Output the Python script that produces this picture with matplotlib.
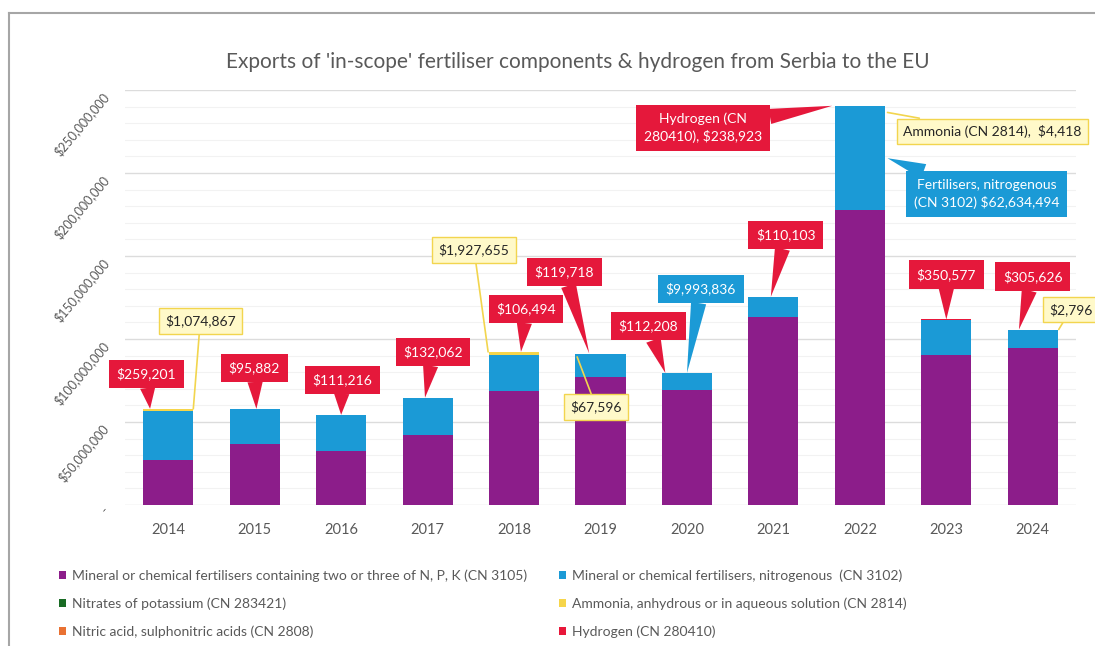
import matplotlib
matplotlib.use("Agg")
import matplotlib.pyplot as plt
from matplotlib.lines import Line2D
from matplotlib.ticker import FuncFormatter, MultipleLocator
import numpy as np

plt.rcParams['font.family'] = ['Lato', 'DejaVu Sans']

years = ['2014', '2015', '2016', '2017', '2018', '2019', '2020', '2021', '2022', '2023', '2024']

# values in USD
npk_3105 = [27100000, 36700000, 32500000, 42200000, 68700000, 77100000, 69400000,
            113300000, 177600000, 90400000, 94600000]
nitrogenous_3102 = [29500000, 21100000, 21700000, 22300000, 21500000, 13900000, 9993836,
                    12000000, 62634494, 21000000, 10800000]
nitrates_283421 = [0, 0, 0, 0, 0, 0, 0, 0, 0, 0, 0]
ammonia_2814 = [1074867, 0, 0, 0, 1927655, 67596, 0, 0, 4418, 0, 2796]
nitric_2808 = [0, 0, 0, 0, 0, 0, 0, 0, 0, 0, 0]
hydrogen_280410 = [259201, 95882, 111216, 132062, 106494, 119718, 112208, 110103,
                   238923, 350577, 305626]

series = [
    ("Mineral or chemical fertilisers containing two or three of N, P, K (CN 3105)", npk_3105, '#8C1D8A'),
    ("Mineral or chemical fertilisers, nitrogenous  (CN 3102)", nitrogenous_3102, '#1B9AD6'),
    ("Nitrates of potassium (CN 283421)", nitrates_283421, '#196B24'),
    ("Ammonia, anhydrous or in aqueous solution (CN 2814)", ammonia_2814, '#F6D54A'),
    ("Nitric acid, sulphonitric acids (CN 2808)", nitric_2808, '#E97132'),
    ("Hydrogen (CN 280410)", hydrogen_280410, '#E8173A'),
]

RED = '#E5183B'
BLUE = '#1B9AD6'
TEXT = '#595959'

fig = plt.figure(figsize=(10.95, 6.46), dpi=100)
ax = fig.add_axes([125 / 1095, 1 - 505 / 646, 951 / 1095, 415 / 646])

x = np.arange(len(years))
bottom = np.zeros(len(years))
handles = []
for name, vals, col in series:
    b = ax.bar(x, vals, 0.58, bottom=bottom, color=col, label=name, zorder=3)
    handles.append(b)
    bottom = bottom + np.array(vals)
totals = bottom

ax.set_xlim(-0.5, len(years) - 0.5)
ax.set_ylim(0, 250000000)
ax.yaxis.set_major_locator(MultipleLocator(50000000))
ax.yaxis.set_minor_locator(MultipleLocator(10000000))
ax.grid(axis='y', which='major', color='#dcdcdc', lw=1, zorder=0)
ax.grid(axis='y', which='minor', color='#f2f2f2', lw=0.8, zorder=0)
for s in ax.spines.values():
    s.set_visible(False)
ax.set_xticks(x)
ax.set_xticklabels(years)
ax.tick_params(axis='x', length=0, pad=13, labelsize=10.5, labelcolor=TEXT)
ax.tick_params(axis='y', which='both', length=0, pad=17, labelsize=9, labelcolor=TEXT)
ax.yaxis.set_major_formatter(FuncFormatter(lambda v, p: '-' if v == 0 else f'${v:,.0f}'))
for lab in ax.get_yticklabels():
    lab.set_rotation(50)
    lab.set_rotation_mode('anchor')
    lab.set_ha('right')
    lab.set_va('top')

fig.text(578 / 1095, 1 - 62 / 646, "Exports of 'in-scope' fertiliser components & hydrogen from Serbia to the EU",
         ha='center', va='center', fontsize=15, color=TEXT)


def money(v):
    return f'${v:,.0f}'


def callout(i, y, dx, text, off, kind):
    if kind == 'red':
        box = dict(boxstyle='square,pad=0.55', fc=RED, ec='none')
        arr = dict(arrowstyle='wedge,tail_width=1.1,shrink_factor=0.5', fc=RED, ec='none',
                   shrinkA=0, shrinkB=0)
        tc = 'white'
    elif kind == 'blue':
        box = dict(boxstyle='square,pad=0.55', fc=BLUE, ec='none')
        arr = dict(arrowstyle='wedge,tail_width=1.1,shrink_factor=0.5', fc=BLUE, ec='none',
                   shrinkA=0, shrinkB=0)
        tc = 'white'
    else:
        box = dict(boxstyle='square,pad=0.45', fc='#FFF9C9', ec='#F2D54E', lw=1)
        arr = dict(arrowstyle='-', color='#F2D54E', lw=1.2, shrinkA=0, shrinkB=0)
        tc = '#262626'
    ax.annotate(text, xy=(i + dx, y), xytext=off, textcoords='offset pixels',
                ha='center', va='center', fontsize=10, color=tc, bbox=box,
                arrowprops=arr, zorder=6, annotation_clip=False,
                linespacing=1.5)


# hydrogen callouts (red)
red_pos = [(-0.21, (-4, 35)), (0.02, (-2, 41)), (0.0, (1, 35)), (-0.03, (8, 46)),
           (0.08, (5, 43)), (-0.13, (-25, 82)), (-0.25, (-17, 47)), (-0.03, (15, 62)),
           None, (0.0, (0, 45)), (-0.16, (14, 53))]
for i, p in enumerate(red_pos):
    if p is None:
        continue
    callout(i, totals[i], p[0], money(hydrogen_280410[i]), p[1], 'red')

callout(8, totals[8], -0.32, f'Hydrogen (CN\n280410), {money(hydrogen_280410[8])}', (-129, -22), 'red')

# ammonia callouts (yellow)
callout(0, totals[0], 0.29, money(ammonia_2814[0]), (7, 88), 'yellow')
callout(4, totals[4], -0.3, money(ammonia_2814[4]), (-14, 102), 'yellow')
callout(5, totals[5] - 2000000, -0.27, money(ammonia_2814[5]), (19, -50), 'yellow')
callout(8, totals[8] - 4000000, 0.32, f'Ammonia (CN 2814),  {money(ammonia_2814[8])}', (105, -19), 'yellow')
callout(10, totals[10], 0.3, money(ammonia_2814[10]), (12, 20), 'yellow')

# nitrogenous callouts (blue)
callout(6, totals[6], 0.0, money(nitrogenous_3102[6]), (14, 84), 'blue')
callout(8, npk_3105[8] + nitrogenous_3102[8] * 0.5, 0.32,
        f'Fertilisers, nitrogenous\n(CN 3102) {money(nitrogenous_3102[8])}', (99, -36), 'blue')

# legend, two columns
leg_kw = dict(frameon=False, fontsize=10, labelcolor=TEXT, handlelength=0.5, handleheight=0.5,
              handletextpad=0.45, labelspacing=1.1, borderaxespad=0, loc='upper left')
fig.legend([handles[0], handles[2], handles[4]], [series[0][0], series[2][0], series[4][0]],
           bbox_to_anchor=(53 / 1095, 1 - 564 / 646), **leg_kw)
fig.legend([handles[1], handles[3], handles[5]], [series[1][0], series[3][0], series[5][0]],
           bbox_to_anchor=(553 / 1095, 1 - 564 / 646), **leg_kw)

# chart frame (top and left edges visible in the crop)
fig.add_artist(Line2D([9 / 1095, 1], [1 - 13 / 646, 1 - 13 / 646], transform=fig.transFigure,
                      color='#a6a6a6', lw=1.5))
fig.add_artist(Line2D([9 / 1095, 9 / 1095], [0, 1 - 13 / 646], transform=fig.transFigure,
                      color='#a6a6a6', lw=1.5))

fig.savefig('out.png', dpi=100)
